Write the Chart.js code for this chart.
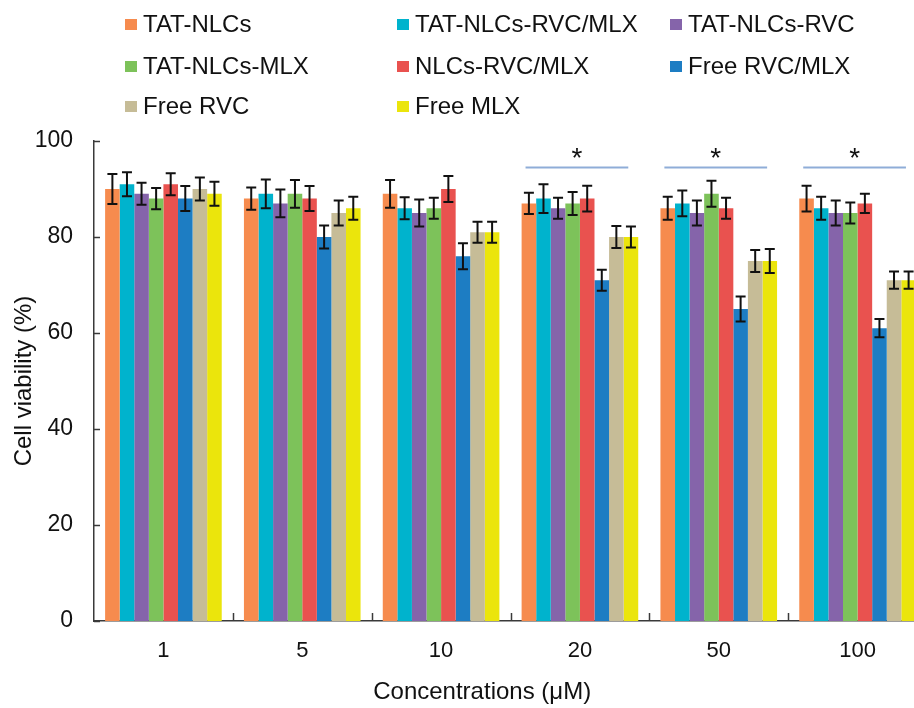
<!DOCTYPE html>
<html>
<head>
<meta charset="utf-8">
<script src="https://cdn.jsdelivr.net/npm/chart.js@4.4.1/dist/chart.umd.min.js"></script>
<style>
  html, body { margin: 0; padding: 0; background: #fff; overflow: hidden; width: 914px; height: 708px; }
  #wrap { position: absolute; left: 0; top: 0; width: 927px; height: 708px; }
  #legend { position: absolute; left: 0; top: 0; width: 914px; height: 130px; font-family: "Liberation Sans", Arial, sans-serif; font-size: 24px; color: #111; }
  .item { position: absolute; white-space: nowrap; display: flex; align-items: center; }
  .box { width: 12px; height: 11px; margin-right: 6px; }
</style>
</head>
<body>
<div id="wrap"><canvas id="c" width="927" height="708"></canvas></div>
<div id="legend"></div>
<script>
// ---- data ----
const categories = ['1', '5', '10', '20', '50', '100'];
const seriesNames = ['TAT-NLCs', 'TAT-NLCs-RVC/MLX', 'TAT-NLCs-RVC', 'TAT-NLCs-MLX', 'NLCs-RVC/MLX', 'Free RVC/MLX', 'Free RVC', 'Free MLX'];
const seriesColors = ['#F68B4E', '#00B3CD', '#8564AA', '#7DC25A', '#E9524F', '#1D7DC3', '#C6BC97', '#EBE50C'];

const tatNlcs       = [90, 88, 89, 87, 86, 88];
const tatNlcsRvcMlx = [91, 89, 86, 88, 87, 86];
const tatNlcsRvc    = [89, 87, 85, 86, 85, 85];
const tatNlcsMlx    = [88, 89, 86, 87, 89, 85];
const nlcsRvcMlx    = [91, 88, 90, 88, 86, 87];
const freeRvcMlx    = [88, 80, 76, 71, 65, 61];
const freeRvc       = [90, 85, 81, 80, 75, 71];
const freeMlx       = [89, 86, 81, 80, 75, 71];

const errTatNlcs       = [3.1, 2.3, 2.9, 2.2, 2.4, 2.7];
const errTatNlcsRvcMlx = [2.5, 3.0, 2.3, 3.0, 2.7, 2.4];
const errTatNlcsRvc    = [2.3, 2.9, 2.8, 2.2, 2.6, 2.6];
const errTatNlcsMlx    = [2.2, 2.9, 2.2, 2.4, 2.7, 2.2];
const errNlcsRvcMlx    = [2.3, 2.6, 2.7, 2.7, 2.2, 2.0];
const errFreeRvcMlx    = [2.6, 2.4, 2.7, 2.2, 2.6, 1.9];
const errFreeRvc       = [2.4, 2.6, 2.2, 2.3, 2.3, 1.8];
const errFreeMlx       = [2.5, 2.4, 2.2, 2.2, 2.5, 1.8];

const yTicks = [0, 20, 40, 60, 80, 100];
const sigCategories = ['20', '50', '100'];
const sigLevel = 94.5;
const sigMark = '*';
const xTitle = 'Concentrations (μM)';
const yTitle = 'Cell viability (%)';

const seriesValues = [tatNlcs, tatNlcsRvcMlx, tatNlcsRvc, tatNlcsMlx, nlcsRvcMlx, freeRvcMlx, freeRvc, freeMlx];
const seriesErrors = [errTatNlcs, errTatNlcsRvcMlx, errTatNlcsRvc, errTatNlcsMlx, errNlcsRvcMlx, errFreeRvcMlx, errFreeRvc, errFreeMlx];

// ---- legend (HTML, 3 columns) ----
const legendCols = [125, 397, 670];
const legendRows = [24, 66, 106];
const legendEl = document.getElementById('legend');
seriesNames.forEach((name, i) => {
  const d = document.createElement('div');
  d.className = 'item';
  d.style.left = legendCols[i % 3] + 'px';
  d.style.top = (legendRows[Math.floor(i / 3)] - 14) + 'px';
  d.style.height = '28px';
  const b = document.createElement('span');
  b.className = 'box';
  b.style.background = seriesColors[i];
  const t = document.createElement('span');
  t.textContent = name;
  d.appendChild(b); d.appendChild(t);
  legendEl.appendChild(d);
});

const FONT = '"Liberation Sans", Arial, sans-serif';
const AXIS_COLOR = '#3a3a3a';

const errorBarPlugin = {
  id: 'errorBars',
  afterDatasetsDraw(chart) {
    const ctx = chart.ctx;
    const y = chart.scales.y;
    ctx.save();
    ctx.strokeStyle = '#111';
    ctx.lineWidth = 2;
    chart.data.datasets.forEach((ds, di) => {
      const meta = chart.getDatasetMeta(di);
      meta.data.forEach((bar, i) => {
        const v = ds.data[i], e = seriesErrors[di][i];
        const x = bar.x;
        const yt = y.getPixelForValue(v + e), yb = y.getPixelForValue(v - e);
        const cap = 5;
        ctx.beginPath();
        ctx.moveTo(x, yt); ctx.lineTo(x, yb);
        ctx.moveTo(x - cap, yt); ctx.lineTo(x + cap, yt);
        ctx.moveTo(x - cap, yb); ctx.lineTo(x + cap, yb);
        ctx.stroke();
      });
    });
    ctx.restore();
  }
};

const axisDecorPlugin = {
  id: 'axisDecor',
  afterDraw(chart) {
    const ctx = chart.ctx;
    const { x, y } = chart.scales;
    const area = chart.chartArea;
    ctx.save();
    ctx.strokeStyle = AXIS_COLOR;
    ctx.lineWidth = 1.5;
    // inward y ticks
    yTicks.forEach(v => {
      const py = Math.round(y.getPixelForValue(v)) + 0.5;
      ctx.beginPath(); ctx.moveTo(area.left, py); ctx.lineTo(area.left + 6, py); ctx.stroke();
    });
    // inward x ticks at category boundaries
    const step = x.getPixelForValue(1) - x.getPixelForValue(0);
    for (let i = 0; i < categories.length; i++) {
      const px = Math.round(x.getPixelForValue(i) + step / 2) + 0.5;
      ctx.beginPath(); ctx.moveTo(px, area.bottom); ctx.lineTo(px, area.bottom - 8); ctx.stroke();
    }
    // significance lines + stars
    sigCategories.forEach(cat => {
      const idx = categories.indexOf(cat);
      const cx = x.getPixelForValue(idx) - 3;
      const half = step * 0.37;
      const py = y.getPixelForValue(sigLevel);
      ctx.strokeStyle = '#8FADD8';
      ctx.lineWidth = 2;
      ctx.beginPath(); ctx.moveTo(cx - half, py); ctx.lineTo(cx + half, py); ctx.stroke();
      ctx.fillStyle = '#111';
      ctx.font = '28px ' + FONT;
      ctx.textAlign = 'center';
      ctx.textBaseline = 'alphabetic';
      ctx.fillText(sigMark, cx, py);
    });
    // x axis title (centred on the visible part of the axis)
    ctx.fillStyle = '#111';
    ctx.font = '24px ' + FONT;
    ctx.textAlign = 'center';
    ctx.textBaseline = 'middle';
    ctx.fillText(xTitle, area.left + (area.right - area.left) * 0.466, 692);
    ctx.restore();
  }
};

new Chart(document.getElementById('c'), {
  type: 'bar',
  data: {
    labels: categories,
    datasets: seriesNames.map((n, i) => ({
      label: n,
      data: seriesValues[i],
      backgroundColor: seriesColors[i],
      borderWidth: 0
    }))
  },
  options: {
    responsive: false,
    animation: false,
    devicePixelRatio: 1,
    layout: { padding: { top: 141, right: 0, bottom: 0, left: 0 } },
    datasets: { bar: { categoryPercentage: 0.84, barPercentage: 1.0 } },
    plugins: { legend: { display: false }, tooltip: { enabled: false } },
    scales: {
      x: {
        grid: { display: false, drawTicks: false },
        border: { display: true, color: AXIS_COLOR, width: 1.5 },
        ticks: { color: '#111', font: { family: FONT, size: 22 }, padding: 17 },
        title: { display: false },
        afterFit(s) { s.height = 87; }
      },
      y: {
        min: 0, max: 100,
        afterBuildTicks(s) { s.ticks = yTicks.map(v => ({ value: v })); },
        grid: { display: false, drawTicks: false },
        border: { display: true, color: AXIS_COLOR, width: 1.5 },
        ticks: { color: '#111', font: { family: FONT, size: 23 }, padding: 21 },
        title: { display: true, text: yTitle, color: '#111', font: { family: FONT, size: 24 }, padding: { top: 10, bottom: 0 } },
        afterFit(s) { s.width = 94; }
      }
    }
  },
  plugins: [errorBarPlugin, axisDecorPlugin]
});
</script>
</body>
</html>
